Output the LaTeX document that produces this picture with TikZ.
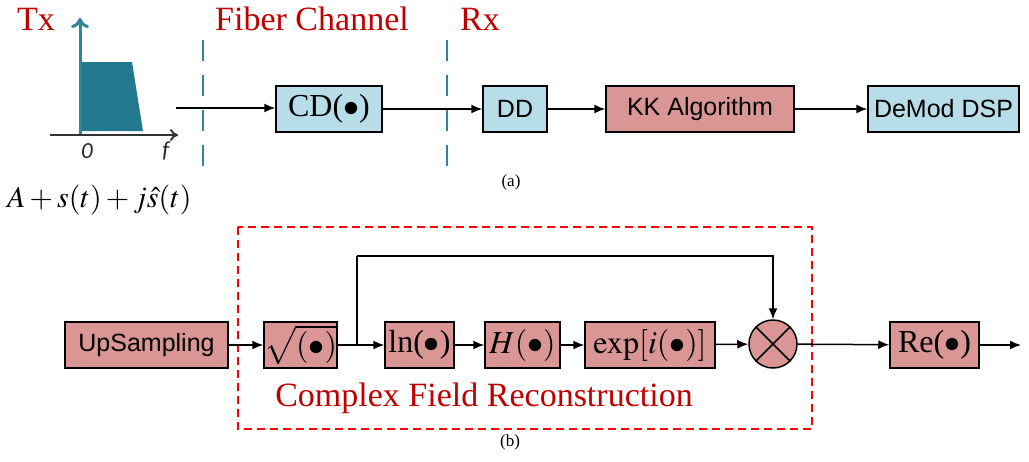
\documentclass[tikz,border=0pt]{standalone}
\usepackage{mathptmx}
\usepackage{fontspec}
\setmainfont{Liberation Serif}
\newfontfamily\arialf{Liberation Sans}
\newfontfamily\calif{Carlito}
\usetikzlibrary{arrows.meta}
\definecolor{boxblue}{HTML}{B7DEE8}
\definecolor{boxred}{HTML}{D99694}
\definecolor{txtred}{HTML}{C00000}
\definecolor{tealc}{HTML}{31849B}
\definecolor{tealf}{HTML}{23798D}
\begin{document}
\begin{tikzpicture}[x=1pt,y=-1pt,
  bx/.style={draw=black, line width=1.5, inner sep=0, minimum height=46, anchor=center},
  bluebox/.style={bx, fill=boxblue},
  redbox/.style={bx, fill=boxred},
  sansf/.style={font=\arialf\fontsize{25}{30}\selectfont},
  mathf/.style={font=\fontsize{32}{38}\selectfont},
  titlef/.style={font=\fontsize{34}{40}\selectfont, text=txtred},
  conn/.style={line width=1.5, -{Latex[length=11,width=9]}},
  plainline/.style={line width=1.5},
  vdash/.style={draw=tealc, line width=2.2, dash pattern=on 21 off 14}
]
\useasboundingbox (0,0) rectangle (1029,461);

% ---- (a) ----
\node[titlef] (tx) at (36,19) {Tx};
\node[titlef] (fiber) at (312,19) {Fiber Channel};
\node[titlef] (rx) at (480,19) {Rx};

% spectrum
\fill[tealf] (80,62) -- (132,62) -- (143,131) -- (80,131) -- cycle;
\coordinate (vaxb) at (80,135);
\coordinate (vaxt) at (80,18);
\coordinate (haxl) at (50,135);
\coordinate (haxr) at (178,135);
\draw[tealc, line width=3, -{To[length=10,width=18]}] (vaxb) -- (vaxt);
\draw[black!80, line width=2, -{To[length=8,width=12]}] (haxl) -- (haxr);
\node[font=\calif\itshape\fontsize{23}{24}\selectfont, text=black!85, inner sep=1] (zero) at (87,151) {0};
\node[font=\calif\itshape\fontsize{23}{24}\selectfont, text=black!85, inner sep=1] (fl) at (166,151) {f};

\node[font=\fontsize{30}{32}\selectfont, anchor=west, inner sep=1] (formula) at (6,200) {$A+s(t)+j\hat{s}(t)$};

\coordinate (d1t) at (203,40); \coordinate (d1b) at (203,166);
\coordinate (d2t) at (447,40); \coordinate (d2b) at (447,166);
\draw[vdash] (d1t) -- (d1b);
\draw[vdash] (d2t) -- (d2b);

\coordinate (start) at (176,108);
\node[bluebox, minimum width=106, mathf] (cd) at (329,109) {CD($\bullet$)};
\node[bluebox, minimum width=64, sansf] (dd) at (515,109) {DD};
\node[redbox, minimum width=188, sansf] (kk) at (700,109) {KK Algorithm};
\node[bluebox, minimum width=151, sansf] (demod) at (943.5,109) {DeMod DSP};

\draw[conn] (start) -- (cd.west |- start);
\draw[conn] (cd) -- (dd);
\draw[conn] (dd) -- (kk);
\draw[conn] (kk) -- (demod);

\node[font=\fontsize{17}{19}\selectfont] (la) at (511,182) {(a)};

% ---- (b) ----
\draw[red, line width=2, dash pattern=on 8 off 5] (238,227) rectangle (812,429);
\node[titlef] (cfr) at (484,398) {Complex Field Reconstruction};

\node[redbox, minimum width=163, sansf] (up) at (146.5,345) {UpSampling};
\node[redbox, minimum width=73, mathf] (sq) at (300.5,345) {$\sqrt{(\bullet)}$};
\node[redbox, minimum width=69, mathf] (ln) at (419.5,345) {ln($\bullet$)};
\node[redbox, minimum width=75, mathf] (hh) at (522.5,345) {$H(\bullet)$};
\node[redbox, minimum width=130, mathf] (ex) at (650,345) {$\exp[i(\bullet)]$};
\node[draw=black, line width=1.5, fill=boxred, circle, minimum size=48, inner sep=0] (mul) at (773,344) {};
\draw[line width=1.5] (mul.north east) -- (mul.south west);
\draw[line width=1.5] (mul.north west) -- (mul.south east);
\node[redbox, minimum width=89, mathf] (re) at (934.5,345) {Re($\bullet$)};
\coordinate (outp) at (1021,345);
\coordinate (br) at (357,345);
\coordinate (brt) at (357,256);

\draw[conn] (up) -- (sq);
\draw[conn] (sq) -- (ln);
\draw[conn] (ln) -- (hh);
\draw[conn] (hh) -- (ex);
\draw[conn] (ex) -- (mul);
\draw[conn] (brt) -| (mul.north);
\draw[plainline] (br) -- (brt);
\draw[conn] (mul) -- (re);
\draw[conn] (re) -- (outp);

\node[font=\fontsize{17}{19}\selectfont] (lb) at (510,442) {(b)};
\end{tikzpicture}
\end{document}
